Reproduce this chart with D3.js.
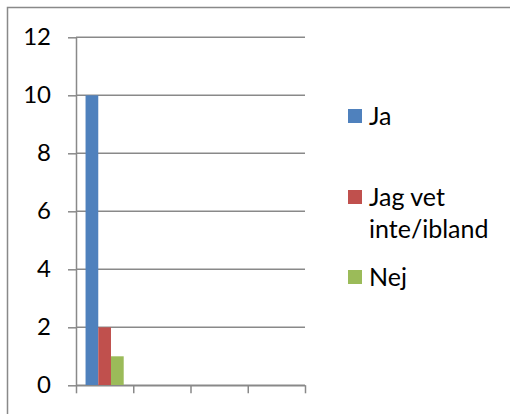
<!DOCTYPE html>
<html>
<head>
<meta charset="utf-8">
<script src="https://cdn.jsdelivr.net/npm/d3@7"></script>
<style>
  html, body { margin: 0; padding: 0; background: #fff; }
  svg { display: block; }
  text { font-family: Lato, "Open Sans", sans-serif; fill: #000; }
</style>
</head>
<body>
<svg id="chart" width="510" height="414"></svg>
<script>
// Answers per category
const categories = ["", "", "", ""];
const seriesNames = ["Ja", "Jag vet inte/ibland", "Nej"];
const legendLines = [["Ja"], ["Jag vet", "inte/ibland"], ["Nej"]];
const jaValues = [10, 0, 0, 0];
const vetInteValues = [2, 0, 0, 0];
const nejValues = [1, 0, 0, 0];
const colors = ["#4F81BD", "#C0504D", "#9BBB59"];
const yTicks = [0, 2, 4, 6, 8, 10, 12];

const seriesValues = [jaValues, vetInteValues, nejValues];

const svg = d3.select("#chart");
const axisColor = "#898989";

// outer frame
svg.append("rect")
  .attr("x", 7.5).attr("y", 7.5)
  .attr("width", 520).attr("height", 420)
  .attr("fill", "none").attr("stroke", axisColor).attr("stroke-width", 1.5);

const plot = { left: 76, right: 305, top: 37.3, bottom: 385.3 };

const y = d3.scaleLinear().domain([0, 12]).range([plot.bottom, plot.top]);
const catIdx = categories.map((c, i) => i);
const x = d3.scaleBand().domain(catIdx).range([plot.left, plot.right]).padding(0);
const xInner = d3.scaleBand().domain(d3.range(seriesNames.length))
  .range([0, x.bandwidth()]).paddingInner(0).paddingOuter(0.75);

// gridlines
svg.append("g").selectAll("line").data(yTicks).join("line")
  .attr("x1", plot.left).attr("x2", plot.right)
  .attr("y1", d => y(d)).attr("y2", d => y(d))
  .attr("stroke", axisColor).attr("stroke-width", 1.5);

// bars
const rows = [];
catIdx.forEach(ci => seriesValues.forEach((vals, si) => rows.push({ ci, si, v: vals[ci] })));
svg.append("g").selectAll("rect").data(rows.filter(r => r.v > 0)).join("rect")
  .attr("x", d => x(d.ci) + xInner(d.si))
  .attr("width", xInner.bandwidth())
  .attr("y", d => y(d.v))
  .attr("height", d => y(0) - y(d.v))
  .attr("fill", d => colors[d.si]);

// y axis
const yAxis = svg.append("g")
  .attr("transform", `translate(${plot.left},0)`)
  .call(d3.axisLeft(y).tickValues(yTicks).tickSize(8).tickPadding(17).tickSizeOuter(0));
yAxis.selectAll("path, line").attr("stroke", axisColor).attr("stroke-width", 1.5);
yAxis.selectAll("text").attr("font-size", 24).attr("font-family", "Lato, sans-serif").attr("fill", "#000");

// x axis with ticks on category boundaries
const xb = d3.scaleLinear().domain([0, categories.length]).range([plot.left, plot.right]);
const xAxis = svg.append("g")
  .attr("transform", `translate(0,${plot.bottom})`)
  .call(d3.axisBottom(xb).tickValues(d3.range(categories.length + 1)).tickSize(8)
    .tickSizeOuter(0).tickFormat(i => categories[i] || ""));
xAxis.selectAll("path, line").attr("stroke", axisColor).attr("stroke-width", 1.5);

// legend
const legendTops = [109, 190, 270];
const legend = svg.append("g");
seriesNames.forEach((name, i) => {
  const g = legend.append("g").attr("transform", `translate(348,${legendTops[i]})`);
  g.append("rect").attr("width", 14).attr("height", 14).attr("fill", colors[i]);
  const t = g.append("text").attr("x", 21).attr("y", 16).attr("font-size", 25);
  legendLines[i].forEach((ln, k) => {
    t.append("tspan").attr("x", 21).attr("dy", k === 0 ? 0 : 32).text(ln);
  });
});
</script>
</body>
</html>
